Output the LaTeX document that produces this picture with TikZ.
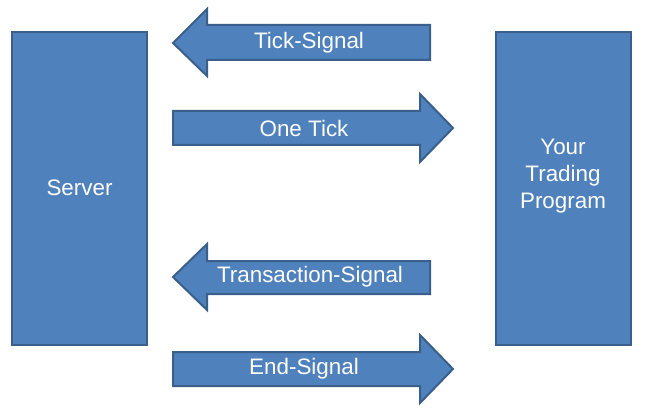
\documentclass[tikz,border=0pt]{standalone}
\usepackage{fontspec}
\setmainfont{Liberation Sans}
\usepackage{tikz}

\definecolor{boxblue}{HTML}{4F81BD}
\definecolor{edgeblue}{HTML}{3A5F8B}

\begin{document}
\begin{tikzpicture}[x=0.75pt,y=-0.75pt,
    block/.style={draw=edgeblue,fill=boxblue,line width=1.5pt},
    lbl/.style={text=white,font=\fontsize{16.8}{20.5}\selectfont,align=center}]
  \useasboundingbox (0,0) rectangle (645,413);
  % the two boxes
  \draw[block] (12,32) rectangle (147,345);
  \draw[block] (496,32) rectangle (631,345);
  \node[lbl] (server) at (79.5,188) {Server};
  \node[lbl] (program) at (563,176) {Your\\Trading\\Program};
  % left arrows
  \draw[block,line join=miter] (430,25) -- (207,25) -- (207,9) -- (173,43) -- (207,76) -- (207,60) -- (430,60) -- cycle;
  \node[lbl] (tick) at (309,43) {Tick-Signal};
  \draw[block,line join=miter] (430,261) -- (207,261) -- (207,244) -- (173,277) -- (207,310) -- (207,294) -- (430,294) -- cycle;
  \node[lbl] (trans) at (310,277) {Transaction-Signal};
  % right arrows
  \draw[block,line join=miter] (173,111) -- (420,111) -- (420,94) -- (453,128) -- (420,162) -- (420,145) -- (173,145) -- cycle;
  \node[lbl] (one) at (304,128) {One Tick};
  \draw[block,line join=miter] (173,352) -- (420,352) -- (420,335) -- (453,369) -- (420,403) -- (420,386) -- (173,386) -- cycle;
  \node[lbl] (endsig) at (304,369) {End-Signal};
\end{tikzpicture}
\end{document}
